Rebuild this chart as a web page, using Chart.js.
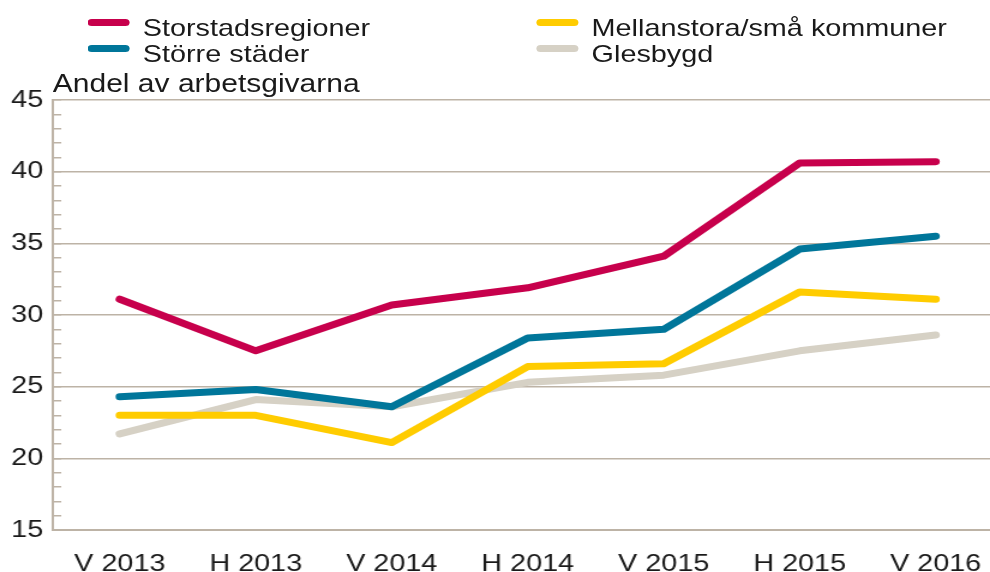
<!DOCTYPE html>
<html>
<head>
<meta charset="utf-8">
<script src="https://cdn.jsdelivr.net/npm/chart.js@4.4.1/dist/chart.umd.min.js"></script>
<style>
    body { margin: 0; background: #fff; }
    #wrap {
        position: relative;
        width: 825px;
        height: 572px;
        transform: scaleX(1.2);
        transform-origin: 0 0;
        font-family: "Liberation Sans", Arial, sans-serif;
        color: #1a1a1a;
    }
    #chart { position: absolute; left: 0; top: 0; }
    .item { position: absolute; font-size: 24px; line-height: 24px; white-space: nowrap; }
    .item span.line {
        position: absolute;
        width: 35px;
        height: 7px;
        border-radius: 4px;
    }
    #title { position: absolute; left: 44px; top: 71px; font-size: 25px; line-height: 25px; white-space: nowrap; }
</style>
</head>
<body>
<div id="wrap">
    <canvas id="chart" width="825" height="572"></canvas>
    <div id="legend"></div>
    <div id="title">Andel av arbetsgivarna</div>
</div>
<script>
const labels = ["V 2013", "H 2013", "V 2014", "H 2014", "V 2015", "H 2015", "V 2016"];
const storstad = [31.1, 27.5, 30.7, 31.9, 34.1, 40.6, 40.7];
const storre = [24.3, 24.8, 23.6, 28.4, 29.0, 34.6, 35.5];
const mellan = [23.0, 23.0, 21.1, 26.4, 26.6, 31.6, 31.1];
const glesbygd = [21.7, 24.1, 23.6, 25.3, 25.8, 27.5, 28.6];
const names = ["Storstadsregioner", "Större städer", "Mellanstora/små kommuner", "Glesbygd"];
const colors = ["#c7004c", "#00769a", "#ffcc00", "#d6d1c5"];

const gridColor = "#bdb3a6";

// legend, two columns
const legendPos = [[73, 16], [73, 42], [447, 16], [447, 42]];
let legendHtml = "";
names.forEach((n, i) => {
    legendHtml += '<div class="item" style="left:' + legendPos[i][0] + 'px;top:' + legendPos[i][1] + 'px">' +
        '<span class="line" style="left:0;top:3px;background:' + colors[i] + '"></span>' +
        '<span style="position:absolute;left:46px;top:0">' + n + '</span></div>';
});
document.getElementById("legend").innerHTML = legendHtml;

function points(values) {
    return values.map((v, i) => ({x: i, y: v}));
}

const series = [storstad, storre, mellan, glesbygd];

new Chart(document.getElementById("chart"), {
    type: "line",
    data: {
        datasets: series.map((s, i) => ({
            label: names[i],
            data: points(s),
            borderColor: colors[i],
            backgroundColor: colors[i],
            borderWidth: 7,
            borderCapStyle: "round",
            borderJoinStyle: "round",
            pointRadius: 0,
            tension: 0
        }))
    },
    options: {
        responsive: false,
        animation: false,
        devicePixelRatio: 1,
        layout: {padding: {top: 100, right: 0, left: 0, bottom: 0}},
        plugins: {legend: {display: false}, tooltip: {enabled: false}},
        scales: {
            x: {
                type: "linear",
                min: -0.4925,
                max: 6.4,
                afterBuildTicks: scale => {
                    scale.ticks = labels.map((l, i) => ({value: i}));
                },
                afterFit: scale => {
                    scale.height = 42;
                    scale.paddingLeft = 0;
                    scale.paddingRight = 0;
                },
                grid: {display: false, drawTicks: false},
                border: {display: true, color: gridColor, width: 2},
                ticks: {
                    autoSkip: false,
                    maxRotation: 0,
                    padding: 20,
                    color: "#1a1a1a",
                    font: {family: "'Liberation Sans', Arial", size: 24},
                    callback: v => labels[v]
                }
            },
            y: {
                min: 15,
                max: 45,
                afterFit: scale => { scale.width = 44; },
                grid: {
                    color: ctx => ctx.tick && ctx.tick.value % 5 === 0 ? gridColor : "rgba(0,0,0,0)",
                    tickColor: gridColor,
                    lineWidth: 1.5,
                    tickWidth: 1.5,
                    tickLength: -7,
                    drawTicks: true
                },
                border: {display: true, color: gridColor, width: 2},
                ticks: {
                    stepSize: 1,
                    autoSkip: false,
                    padding: 15,
                    color: "#1a1a1a",
                    font: {family: "'Liberation Sans', Arial", size: 24},
                    callback: v => v % 5 === 0 ? v : ""
                }
            }
        }
    }
});
</script>
</body>
</html>
